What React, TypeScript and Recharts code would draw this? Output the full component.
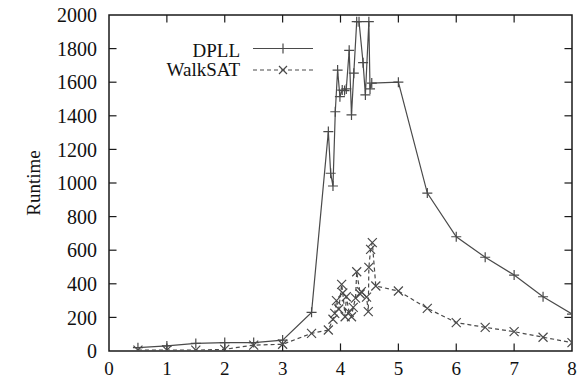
import React from 'react';
import { LineChart, Line, XAxis, YAxis, ReferenceLine, ReferenceArea } from 'recharts';

// x = ratio, y = runtime
const dpllX = [0.5, 1, 1.5, 2, 2.5, 3, 3.5, 3.79, 3.83, 3.87, 3.91, 3.95, 3.99, 4.03, 4.07, 4.1, 4.15, 4.19, 4.23, 4.28, 4.32, 4.39, 4.43, 4.49, 4.51, 4.54, 5, 5.5, 6, 6.5, 7, 7.5, 8];
const dpllY = [20, 30, 45, 50, 50, 65, 230, 1306, 1058, 982, 1424, 1672, 1514, 1553, 1550, 1560, 1790, 1405, 1654, 1960, 1960, 1716, 1524, 1960, 1560, 1595, 1600, 940, 680, 558, 452, 323, 220];

const walkX = [0.5, 1, 1.5, 2, 2.5, 3, 3.5, 3.79, 3.87, 3.9, 3.93, 3.97, 4.02, 4.04, 4.08, 4.1, 4.15, 4.19, 4.22, 4.26, 4.28, 4.34, 4.36, 4.45, 4.48, 4.49, 4.52, 4.55, 4.61, 5, 5.5, 6, 6.5, 7, 7.5, 8];
const walkY = [5, 5, 5, 10, 35, 40, 105, 125, 189, 224, 300, 250, 397, 345, 204, 323, 230, 204, 260, 315, 472, 339, 353, 321, 234, 498, 605, 645, 387, 357, 254, 169, 141, 115, 82, 50];

const xTicks = [0, 1, 2, 3, 4, 5, 6, 7, 8];
const yTicks = [0, 200, 400, 600, 800, 1000, 1200, 1400, 1600, 1800, 2000];

const dpllData = dpllX.map((x, i) => ({ x, y: dpllY[i] }));
const walkData = walkX.map((x, i) => ({ x, y: walkY[i] }));

const FONT = '"Liberation Serif", "DejaVu Serif", serif';
const LINE = '#4a4a4a';
const FRAME = '#1a1a1a';

const PlusDot = (props: any) => {
    const { cx, cy, index } = props;
    if (cx == null || cy == null) return <g key={`p${index}`} />;
    return (
        <path key={`p${index}`} d={`M${cx - 5},${cy}H${cx + 5}M${cx},${cy - 5}V${cy + 5}`} stroke={LINE} strokeWidth={1.2} fill="none" />
    );
};

const CrossDot = (props: any) => {
    const { cx, cy, index } = props;
    if (cx == null || cy == null) return <g key={`c${index}`} />;
    return (
        <path key={`c${index}`} d={`M${cx - 4.5},${cy - 4.5}L${cx + 4.5},${cy + 4.5}M${cx - 4.5},${cy + 4.5}L${cx + 4.5},${cy - 4.5}`} stroke={LINE} strokeWidth={1.2} fill="none" />
    );
};

// legend drawn as an overlay so it doesn't eat into the plot area
const LegendBox = () => (
    <svg width={180} height={48} style={{ position: 'absolute', left: 150, top: 36 }}>
        <text x={90} y={21} textAnchor="end" fontFamily={FONT} fontSize={19} fill="#111">DPLL</text>
        <line x1={103} y1={12.5} x2={163} y2={12.5} stroke={LINE} strokeWidth={1.2} />
        <path d="M128,12.5H138M133,7.5V17.5" stroke={LINE} strokeWidth={1.2} />
        <text x={90} y={40} textAnchor="end" fontFamily={FONT} fontSize={19} fill="#111">WalkSAT</text>
        <line x1={103} y1={34} x2={163} y2={34} stroke={LINE} strokeWidth={1.2} strokeDasharray="4 3" />
        <path d="M129,30L137,38M129,38L137,30" stroke={LINE} strokeWidth={1.2} />
    </svg>
);

export default function App() {
    const tickStyle = { fontFamily: FONT, fontSize: 20, fill: '#111' };
    return (
        <div style={{ position: 'absolute', left: 0, top: 0, width: 588, height: 383, background: '#fff' }}>
            <LineChart width={588} height={383} margin={{ top: 15, right: 16, bottom: 0, left: 0 }}>
                <XAxis
                    type="number"
                    dataKey="x"
                    domain={[0, 8]}
                    ticks={xTicks}
                    allowDataOverflow
                    axisLine={false}
                    tickLine={false}
                    tickSize={0}
                    tickMargin={11}
                    height={32}
                    tick={{ ...tickStyle, fontSize: 19 }}
                />
                <YAxis
                    type="number"
                    dataKey="y"
                    domain={[0, 2000]}
                    ticks={yTicks}
                    allowDataOverflow
                    axisLine={false}
                    tickLine={false}
                    tickSize={0}
                    tickMargin={12}
                    width={109}
                    tick={tickStyle}
                    label={(p: any) => {
                        const vb = p.viewBox || {};
                        const cx = (vb.x || 0) + 33;
                        const cy = (vb.y || 0) + (vb.height || 0) / 2;
                        return (
                            <text x={cx} y={cy} transform={`rotate(-90 ${cx} ${cy})`} textAnchor="middle" dominantBaseline="central" fontFamily={FONT} fontSize={19} fill="#111">
                                Runtime
                            </text>
                        );
                    }}
                />
                <ReferenceArea x1={0} x2={8} y1={0} y2={2000} fill="none" stroke={FRAME} strokeWidth={1.5} ifOverflow="visible" />
                {/* inward tick marks on all four sides */}
                {xTicks.slice(1, -1).map(t => (
                    <ReferenceLine key={`xb${t}`} segment={[{ x: t, y: 0 }, { x: t, y: 45 }]} stroke={FRAME} strokeWidth={1.2} />
                ))}
                {xTicks.slice(1, -1).map(t => (
                    <ReferenceLine key={`xt${t}`} segment={[{ x: t, y: 2000 }, { x: t, y: 1955 }]} stroke={FRAME} strokeWidth={1.2} />
                ))}
                {yTicks.slice(1, -1).map(t => (
                    <ReferenceLine key={`yl${t}`} segment={[{ x: 0, y: t }, { x: 0.13, y: t }]} stroke={FRAME} strokeWidth={1.2} />
                ))}
                {yTicks.slice(1, -1).map(t => (
                    <ReferenceLine key={`yr${t}`} segment={[{ x: 8, y: t }, { x: 7.87, y: t }]} stroke={FRAME} strokeWidth={1.2} />
                ))}
                <Line data={dpllData} dataKey="y" name="DPLL" stroke={LINE} strokeWidth={1.2} dot={PlusDot} activeDot={false} isAnimationActive={false} />
                <Line data={walkData} dataKey="y" name="WalkSAT" stroke={LINE} strokeWidth={1.2} strokeDasharray="4 3" dot={CrossDot} activeDot={false} isAnimationActive={false} />
            </LineChart>
            <LegendBox />
        </div>
    );
}
